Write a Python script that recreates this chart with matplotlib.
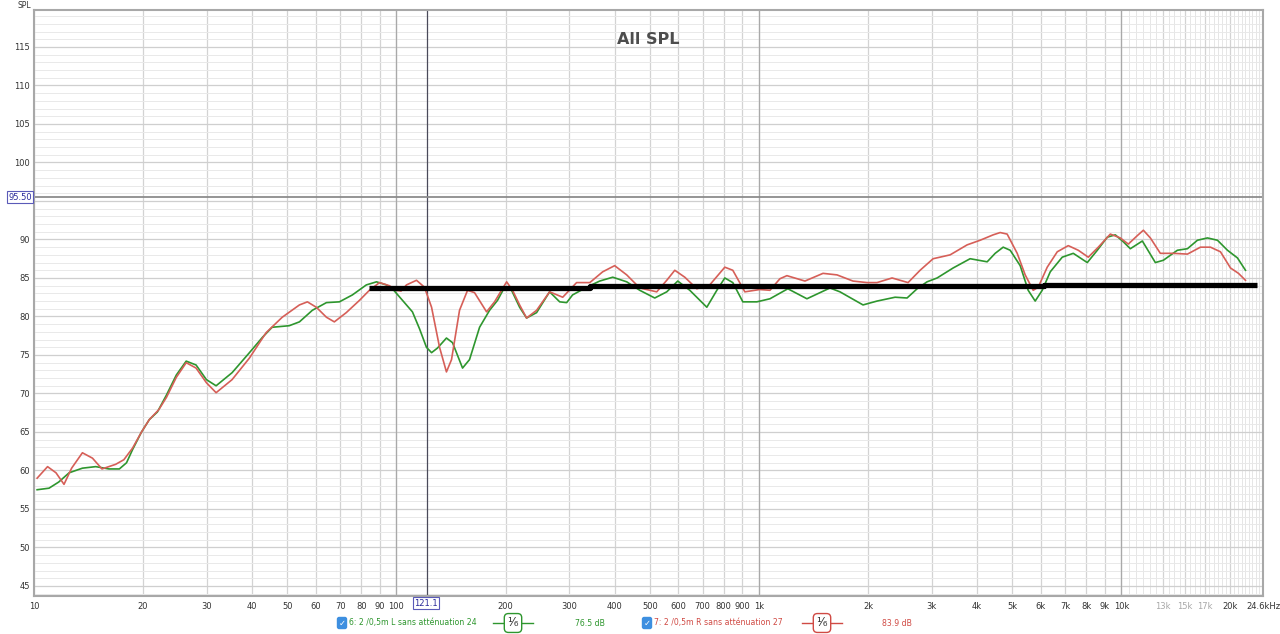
import numpy as np
import matplotlib
matplotlib.use("Agg")
import matplotlib.pyplot as plt
from matplotlib.lines import Line2D
from matplotlib.ticker import NullFormatter

# ==============================
# Messdaten (abgelesen)
# ==============================
freq_l = [10.2, 11.0, 11.7, 12.5, 13.6, 14.8, 16.1, 17.2, 18.0, 18.7, 19.8, 20.8, 21.9, 23.2,
          24.7, 26.3, 28.0, 29.9, 31.8, 35.2, 39.3, 42.7, 45.4, 50.6, 54.0, 58.6, 64.1, 69.6,
          75.6, 82.6, 88.1, 93.8, 97.5, 103.9, 110.7, 115.8, 121.0, 125.0, 129.8, 137.4, 142.8,
          152.2, 159.1, 169.6, 180.7, 190.1, 198.8, 207.8, 218.7, 228.6, 243.6, 264.6, 282.1,
          294.9, 306.2, 334.9, 363.8, 395.2, 431.9, 469.2, 516.1, 557.0, 597.3, 644.8, 718.4,
          765.6, 805.4, 847.3, 903.2, 987.4, 1073, 1202, 1357, 1571, 1674, 1938, 2118, 2376,
          2564, 2733, 2911, 3103, 3436, 3827, 4265, 4487, 4721, 4936, 5260, 5534, 5786, 6050,
          6367, 6871, 7370, 8056, 8585, 9149, 9625, 10128, 10590, 11430, 12414, 13062, 14280,
          15222, 16219, 17285, 18419, 19629, 20919, 22008]
spl_l = [57.5, 57.7, 58.5, 59.7, 60.3, 60.5, 60.2, 60.2, 61.0, 62.7, 65.0, 66.6, 67.6, 69.8,
         72.4, 74.2, 73.7, 71.8, 71.0, 72.7, 75.3, 77.3, 78.6, 78.8, 79.3, 80.8, 81.8, 81.9,
         82.8, 84.1, 84.5, 84.1, 83.6, 82.1, 80.6, 78.4, 76.0, 75.3, 75.9, 77.2, 76.6,
         73.3, 74.4, 78.6, 80.8, 82.1, 83.8, 83.4, 81.2, 79.8, 80.5, 83.2, 81.9,
         81.8, 82.8, 83.8, 84.6, 85.1, 84.5, 83.4, 82.4, 83.2, 84.6, 83.4, 81.2,
         83.4, 85.0, 84.4, 81.9, 81.9, 82.3, 83.6, 82.3, 83.7, 83.2, 81.5, 82.0, 82.5,
         82.4, 83.6, 84.5, 85.0, 86.3, 87.5, 87.1, 88.2, 89.0, 88.6, 86.6, 83.4, 82.0, 83.4,
         85.8, 87.7, 88.2, 87.0, 88.6, 90.3, 90.6, 89.7, 88.8, 89.8, 87.0, 87.3, 88.6,
         88.8, 89.9, 90.2, 89.9, 88.6, 87.6, 86.0]

freq_r = [10.2, 10.9, 11.5, 12.1, 12.7, 13.6, 14.5, 15.4, 16.8, 17.7, 18.7, 19.8, 20.8, 22.1,
          23.2, 24.7, 26.3, 28.0, 29.9, 31.8, 35.2, 39.3, 43.7, 48.4, 54.0, 56.8, 60.1, 64.1,
          67.4, 72.7, 79.1, 84.2, 89.8, 95.6, 100, 103.0, 106.6, 113.6, 119.5, 125.0, 131.5,
          137.4, 141.9, 149.3, 157.1, 164.2, 177.3, 186.5, 201.4, 209.1, 218.7, 228.6, 243.6,
          264.6, 287.6, 314.1, 341.6, 370.7, 400, 431.9, 469.2, 522.6, 557.0, 586.1, 624.6,
          674.1, 732.0, 805.4, 847.3, 914.8, 1006, 1073, 1143, 1195, 1340, 1503, 1643, 1818,
          1988, 2118, 2331, 2580, 2785, 3025, 3370, 3755, 4079, 4430, 4632, 4842, 5161, 5430,
          5713, 5898, 6246, 6657, 7139, 7608, 8107, 8640, 9325, 9936, 10455, 11070, 11504,
          12026, 12814, 13920, 15222, 16532, 17619, 18775, 20008, 21052, 22008]
spl_r = [59.0, 60.5, 59.7, 58.2, 60.3, 62.3, 61.6, 60.2, 60.8, 61.4, 62.9, 65.0, 66.6, 67.9,
         69.5, 72.1, 74.0, 73.3, 71.4, 70.1, 71.8, 74.6, 77.9, 79.9, 81.5, 81.9, 81.2, 79.9,
         79.3, 80.5, 82.1, 83.4, 84.4, 84.0, 83.4, 83.3, 84.1, 84.7, 83.8, 81.2, 76.0,
         72.8, 74.4, 80.8, 83.4, 83.1, 80.6, 81.9, 84.5, 83.4, 81.5, 79.8, 80.8,
         83.2, 82.5, 84.4, 84.4, 85.8, 86.6, 85.4, 83.7, 83.2, 84.7, 86.0, 85.1,
         83.6, 84.1, 86.4, 86.0, 83.2, 83.5, 83.4, 84.9, 85.3, 84.6, 85.6, 85.4, 84.6,
         84.4, 84.4, 85.0, 84.4, 86.0, 87.5, 88.0, 89.3, 89.9, 90.6, 90.9, 90.7, 88.2, 85.4,
         83.4, 83.8, 86.4, 88.4, 89.2, 88.6, 87.7, 89.0, 90.7, 90.2, 89.4, 90.5, 91.2,
         90.2, 88.2, 88.2, 88.1, 89.0, 89.0, 88.4, 86.3, 85.6, 84.7]

# Referenzlinie (schwarz, von Hand gezogen)
ref_freq = [84, 341, 341, 6100, 6100, 23750]
ref_spl = [83.75, 83.75, 83.95, 83.95, 84.1, 84.1]

x_ticks = [10, 20, 30, 40, 50, 60, 70, 80, 90, 100, 200, 300, 400, 500, 600, 700, 800, 900,
           1000, 2000, 3000, 4000, 5000, 6000, 7000, 8000, 9000, 10000, 13000, 15000, 17000,
           20000, 24600]
x_labels = ["10", "20", "30", "40", "50", "60", "70", "80", "90", "100", "200", "300", "400",
            "500", "600", "700", "800", "900", "1k", "2k", "3k", "4k", "5k", "6k", "7k", "8k",
            "9k", "10k", "13k", "15k", "17k", "20k", "24.6kHz"]
y_ticks = list(range(45, 120, 5))

cursor_freq = 121.1
cursor_spl = 95.50

legend_l = "6: 2 /0,5m L sans atténuation 24"
legend_r = "7: 2 /0,5m R sans atténuation 27"
level_l = "76.5 dB"
level_r = "83.9 dB"

green = "#2e962e"
red = "#d65f58"

# ==============================
# Plot
# ==============================
fig = plt.figure(figsize=(12.8, 6.34), dpi=100)
ax = fig.add_axes([34 / 1280, 1 - 596 / 634, (1263 - 34) / 1280, (596 - 10) / 634])

ax.set_xscale("log")
ax.set_xlim(10, 24600)
ax.set_ylim(43.7, 119.8)

# Gitter
ax.set_yticks(y_ticks)
ax.set_yticks(np.arange(44, 120, 1), minor=True)
ax.set_xticks(x_ticks)
ax.set_xticklabels(x_labels)
ax.set_xticks([f for f in np.arange(10500, 24600, 500) if f not in x_ticks], minor=True)
ax.xaxis.set_minor_formatter(NullFormatter())
ax.yaxis.set_minor_formatter(NullFormatter())
ax.grid(which="major", axis="y", color="#cfcfcf", lw=0.9)
ax.grid(which="minor", axis="y", color="#e9e9e9", lw=0.7)
ax.grid(which="major", axis="x", color="#d3d3d3", lw=0.9)
ax.grid(which="minor", axis="x", color="#e6e6e6", lw=0.7)
for dec in [100, 1000, 10000]:
    ax.axvline(dec, color="#a9a9a9", lw=0.9, zorder=0.6)
ax.set_axisbelow(True)

ax.tick_params(which="both", length=0, labelsize=6, colors="#333333")
ax.tick_params(axis="x", pad=4)
ax.tick_params(axis="y", pad=3)
for lab in ax.get_xticklabels():
    if lab.get_text() in ("13k", "15k", "17k"):
        lab.set_color("#a8a8a8")
for sp in ax.spines.values():
    sp.set_color("#a8a8a8")
    sp.set_linewidth(1.5)

# Cursor
ax.axvline(cursor_freq, color="#4a4a5a", lw=0.9, zorder=1)
ax.axhline(cursor_spl, color="#8c8c8c", lw=1.3, zorder=1)

# Kurven
ax.plot(freq_l, spl_l, color=green, lw=1.2, zorder=3, solid_joinstyle="round")
ax.plot(freq_r, spl_r, color=red, lw=1.2, zorder=4, solid_joinstyle="round")
ax.plot(ref_freq, ref_spl, color="black", lw=3.8, solid_capstyle="butt", zorder=5)

ax.set_title("All SPL", fontsize=11.5, fontweight="bold", color="#4d4d4d", y=0.975, pad=-14)

# Beschriftungen
fig.text(24 / 1280, 1 - 5 / 634, "SPL", fontsize=5.5, color="#333333", ha="center", va="center")
box = dict(boxstyle="square,pad=0.15", fc="white", ec="#5a5ab8", lw=0.8)
fig.text(20 / 1280, 1 - 197 / 634, f"{cursor_spl:.2f}", fontsize=6, color="#2a2a9a",
         ha="center", va="center", bbox=box, zorder=10)
fig.text(426 / 1280, 1 - 603 / 634, f"{cursor_freq:.1f}", fontsize=6, color="#2a2a9a",
         ha="center", va="center", bbox=box, zorder=10)

# Legende
y_leg = 1 - 623 / 634
for x0, txt, lvl, col, xb, xd in [(342, legend_l, level_l, green, 513, 575),
                                  (647, legend_r, level_r, "#d04a44", 822, 882)]:
    fig.text(x0 / 1280, y_leg, "✓", fontsize=6, color="white", ha="center", va="center",
             fontweight="bold",
             bbox=dict(boxstyle="round,pad=0.12,rounding_size=0.2", fc="#3d8fe0", ec="#3d8fe0"))
    fig.text((x0 + 7) / 1280, y_leg, txt, fontsize=5.6, color=col, ha="left", va="center")
    fig.add_artist(Line2D([(xb - 20) / 1280, (xb + 20) / 1280], [y_leg, y_leg],
                          color=col, lw=1.0, transform=fig.transFigure))
    fig.text(xb / 1280, y_leg, "¹⁄₆", fontsize=8.5, color="#333333", ha="center", va="center",
             bbox=dict(boxstyle="round,pad=0.25,rounding_size=0.35", fc="white", ec=col, lw=1.0))
    fig.text(xd / 1280, y_leg, lvl, fontsize=5.6, color=col, ha="left", va="center")

fig.savefig("out.png", dpi=100, facecolor="white")
